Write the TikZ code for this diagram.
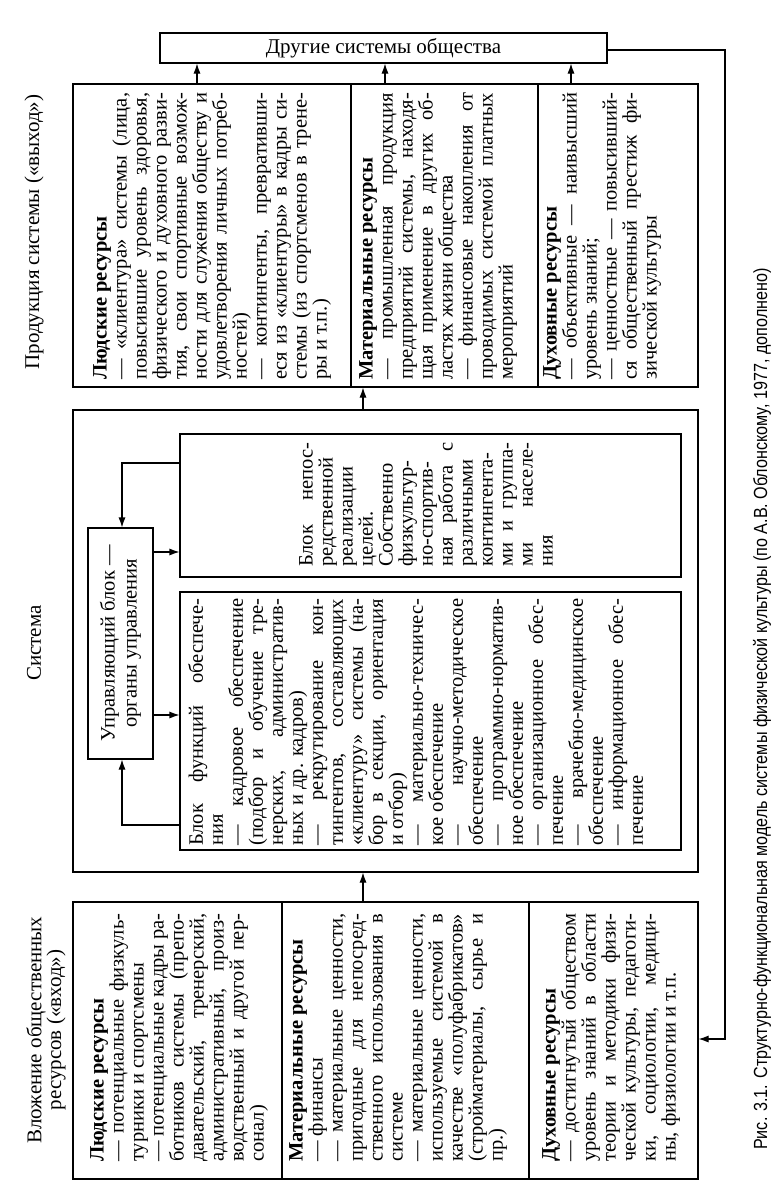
\documentclass[tikz,border=0pt]{standalone}
\usepackage{fontspec}
\setmainfont{Liberation Serif}
\newfontfamily\capfont[FakeStretch=0.85]{Liberation Sans}
\usetikzlibrary{arrows.meta}
\newcommand\Jl[1]{\hbox to\hsize{#1}}
\newcommand\Ll[1]{\hbox to\hsize{#1\hfil}}
\newcommand\Hl[1]{\hbox to\hsize{\bfseries #1\hfil}}
\newcommand\tb[2]{\vbox{\hsize=#1pt\relax #2}}
\hbadness=10000 \hfuzz=60pt
\begin{document}
\begin{tikzpicture}[x=1pt,y=-1pt,
  frame/.style={draw, line width=1.1pt, inner sep=0pt},
  txt/.style={inner sep=0pt, rotate=90, anchor=north west, font=\fontsize{20.5}{20}\selectfont},
  head/.style={inner sep=0pt, rotate=90, font=\fontsize{21}{18.5}\selectfont, align=center},
  arr/.style={line width=1.1pt, -{Latex[length=10pt,width=7pt]}}]
\fill[white] (0,0) rectangle (772,1194);
\useasboundingbox (0,0) rectangle (772,1194);

% frames
\node[frame, minimum width=447pt, minimum height=30pt, font=\fontsize{21}{21}\selectfont] (other) at (383.5,48) {Другие системы общества};
\node[frame, minimum width=278pt, minimum height=303pt] (outLud) at (212,235.5) {};
\node[frame, minimum width=187pt, minimum height=303pt] (outMat) at (444.5,235.5) {};
\node[frame, minimum width=160pt, minimum height=303pt] (outDuh) at (618,235.5) {};
\node[frame, minimum width=625pt, minimum height=462pt] (sys) at (385.5,641) {};
\node[frame, minimum width=501pt, minimum height=143pt] (real) at (430.5,505.5) {};
\node[frame, minimum width=501pt, minimum height=258pt] (func) at (430.5,721) {};
\node[frame, minimum width=65pt, minimum height=231pt] (ctrl) at (120.5,643.5) {};
\node[frame, minimum width=209pt, minimum height=277pt] (inLud) at (177.5,1040.5) {};
\node[frame, minimum width=247pt, minimum height=277pt] (inMat) at (405.5,1040.5) {};
\node[frame, minimum width=169pt, minimum height=277pt] (inDuh) at (613.5,1040.5) {};

% headings
\node[head] (hOut) at (34,232) {Продукция системы («выход»)};
\node[head] (hSys) at (34,643) {Система};
\node[head] (hIn) at (46,1030) {Вложение общественных\\ресурсов («вход»)};
\node[head, font=\fontsize{20.5}{22}\selectfont] (ctrlT) at (ctrl.center) {Управляющий блок —\\органы управления};
\node[inner sep=0pt, rotate=90, anchor=west, font=\capfont\fontsize{19}{19}\selectfont] (cap) at (762,1150) {Рис. 3.1. Структурно-функциональная модель системы физической культуры (по А.В. Облонскому, 1977, дополнено)};

% output texts
\node[txt] (outLudT) at (93,380) {\tb{287}{%
\Hl{Людские ресурсы}
\Jl{— «клиентура» системы (лица,}
\Jl{повысившие уровень здоровья,}
\Jl{физического и духовного разви-}
\Jl{тия, свои спортивные возмож-}
\Jl{ности для служения обществу и}
\Jl{удовлетворения личных потреб-}
\Ll{ностей)}
\Jl{— контингенты, превративши-}
\Jl{еся из «клиентуры» в кадры си-}
\Jl{стемы (из спортсменов в трене-}
\Ll{ры и т.п.)}}};
\node[txt] (outMatT) at (359,380) {\tb{287}{%
\Hl{Материальные ресурсы}
\Jl{— промышленная продукция}
\Jl{предприятий системы, находя-}
\Jl{щая применение в других об-}
\Ll{ластях жизни общества}
\Jl{— финансовые накопления от}
\Jl{проводимых системой платных}
\Ll{мероприятий}}};
\node[txt] (outDuhT) at (543,380) {\tb{287}{%
\Hl{Духовные ресурсы}
\Jl{— объективные — наивысший}
\Ll{уровень знаний;}
\Jl{— ценностные — повысивший-}
\Jl{ся общественный престиж фи-}
\Ll{зической культуры}}};

% system texts
\node[txt] (realT) at (299,567) {\tb{124}{%
\Jl{Блок непос-}
\Jl{редственной}
\Jl{реализации}
\Ll{целей.}
\Jl{Собственно}
\Jl{физкультур-}
\Jl{но-спортив-}
\Jl{ная работа с}
\Jl{различными}
\Jl{контингента-}
\Jl{ми и группа-}
\Jl{ми населе-}
\Ll{ния}}};
\node[txt] (funcT) at (188,846) {\tb{247}{%
\Jl{Блок функций обеспече-}
\Ll{ния}
\Jl{— кадровое обеспечение}
\Jl{(подбор и обучение тре-}
\Jl{нерских, административ-}
\Ll{ных и др. кадров)}
\Jl{— рекрутирование кон-}
\Jl{тингентов, составляющих}
\Jl{«клиентуру» системы (на-}
\Jl{бор в секции, ориентация}
\Ll{и отбор)}
\Jl{— материально-техничес-}
\Ll{кое обеспечение}
\Jl{— научно-методическое}
\Ll{обеспечение}
\Jl{— программно-норматив-}
\Ll{ное обеспечение}
\Jl{— организационное обес-}
\Ll{печение}
\Jl{— врачебно-медицинское}
\Ll{обеспечение}
\Jl{— информационное обес-}
\Ll{печение}}};

% input texts
\node[txt] (inLudT) at (90,1162) {\tb{248}{%
\Hl{Людские ресурсы}
\Jl{— потенциальные физкуль-}
\Ll{турники и спортсмены}
\Jl{— потенциальные кадры ра-}
\Jl{ботников системы (препо-}
\Jl{давательский, тренерский,}
\Jl{административный, произ-}
\Jl{водственный и другой пер-}
\Ll{сонал)}}};
\node[txt] (inMatT) at (289,1162) {\tb{248}{%
\Hl{Материальные ресурсы}
\Ll{— финансы}
\Jl{— материальные ценности,}
\Jl{пригодные для непосред-}
\Jl{ственного использования в}
\Ll{системе}
\Jl{— материальные ценности,}
\Jl{используемые системой в}
\Jl{качестве «полуфабрикатов»}
\Jl{(стройматериалы, сырье и}
\Ll{пр.)}}};
\node[txt] (inDuhT) at (542,1162) {\tb{248}{%
\Hl{Духовные ресурсы}
\Jl{— достигнутый обществом}
\Jl{уровень знаний в области}
\Jl{теории и методики физи-}
\Jl{ческой культуры, педагоги-}
\Jl{ки, социологии, медици-}
\Ll{ны, физиологии и т.п.}}};

% connectors
\coordinate (fbx) at (725,500);
\draw[arr] ([xshift=-15pt]outLud.north) -- ([xshift=-15pt]outLud.north |- other.south);
\draw[arr] ([xshift=-59.5pt]outMat.north) -- ([xshift=-59.5pt]outMat.north |- other.south);
\draw[arr] ([xshift=-47pt]outDuh.north) -- ([xshift=-47pt]outDuh.north |- other.south);
\draw[arr] ([xshift=-22.5pt]sys.north) -- ([xshift=-22.5pt]sys.north |- outMat.south);
\draw[arr] ([xshift=-42.5pt]inMat.north) -- ([xshift=-42.5pt]inMat.north |- sys.south);
\draw[arr] ([yshift=91.5pt]ctrl.east) -- ([yshift=91.5pt]ctrl.east -| real.west);
\draw[arr] ([yshift=-71.5pt]ctrl.east) -- ([yshift=-71.5pt]ctrl.east -| func.west);
\draw[arr] ([yshift=42.5pt]real.west) -| ([xshift=1.5pt]ctrl.north);
\draw[arr] ([yshift=-104pt]func.west) -| ([xshift=1.5pt]ctrl.south);
\draw[arr] ([yshift=-2pt]other.east) -| (fbx) |- ([yshift=1.5pt]inDuh.east);
\end{tikzpicture}
\end{document}
